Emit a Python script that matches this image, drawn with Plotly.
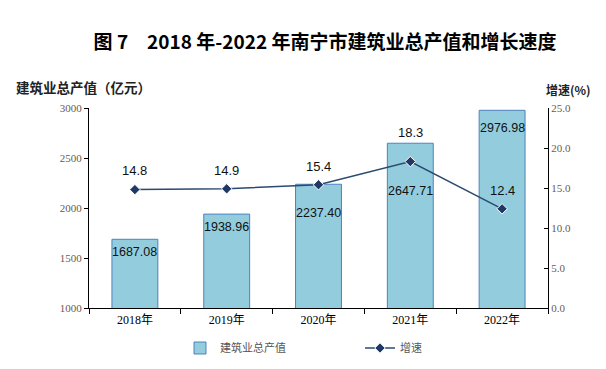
import plotly.graph_objects as go

years = ["2018年", "2019年", "2020年", "2021年", "2022年"]
output_value = [1687.08, 1938.96, 2237.40, 2647.71, 2976.98]
growth = [14.8, 14.9, 15.4, 18.3, 12.4]
bar_label_shift = [-13, -13, -29, -48, -18]
growth_label_shift = [19, 18, 18, 29, 18]

OFF = 8  # page body margin
W, H = 606, 369
PL, PR, PT, PB = 89 - OFF, 548 - OFF, 108 - OFF, 308 - OFF
PW, PH = PR - PL, PB - PT

fig = go.Figure()
fig.add_trace(go.Bar(
    x=years, y=output_value, name="建筑业总产值",
    marker=dict(color="#93CDDD", line=dict(color="#4F81BD", width=1)),
    width=0.5, yaxis="y",
))
fig.add_trace(go.Scatter(
    x=years, y=growth, name="增速", yaxis="y2", mode="lines+markers",
    line=dict(color="#2B4A6F", width=1.5),
    marker=dict(symbol="diamond", size=8, color="#1F3864", line=dict(color="white", width=1)),
))

ann = []
for xv, v, s in zip(years, output_value, bar_label_shift):
    ann.append(dict(x=xv, y=v, xref="x", yref="y", text=f"{v:.2f}", showarrow=False,
                    yshift=s, font=dict(family="Liberation Sans, Arial", size=12.5, color="#111")))
for xv, v, s in zip(years, growth, growth_label_shift):
    ann.append(dict(x=xv, y=v, xref="x", yref="y2", text=f"{v:.1f}", showarrow=False,
                    yshift=s, font=dict(family="Liberation Sans, Arial", size=13, color="#111")))
ann.append(dict(x=(14 - OFF - PL) / PW, y=(PB - (87 - OFF)) / PH, xref="paper", yref="paper",
                text="<b>建筑业总产值（亿元）</b>",
                showarrow=False, xanchor="left", yanchor="middle",
                font=dict(family="Noto Sans CJK SC", size=13.5, color="#222")))
ann.append(dict(x=(544 - OFF - PL) / PW, y=(PB - (90 - OFF)) / PH, xref="paper", yref="paper",
                text="<b>增速(%)</b>",
                showarrow=False, xanchor="left", yanchor="middle",
                font=dict(family="Noto Sans CJK SC", size=12, color="#222")))

tickfont = dict(family="Liberation Serif, DejaVu Serif", size=11, color="#6b5a50")

fig.update_layout(
    width=W, height=H,
    margin=dict(l=PL, r=W - PR, t=PT, b=H - PB, autoexpand=False),
    paper_bgcolor="white", plot_bgcolor="white",
    title=dict(text="<b>图 7　2018 年-2022 年南宁市建筑业总产值和增长速度</b>",
               x=(325 - OFF) / W, xanchor="center", y=1 - (42 - OFF) / H, yanchor="middle",
               font=dict(family="Noto Sans CJK SC", size=19, color="#000")),
    showlegend=True,
    legend=dict(orientation="h", xref="container", yref="container",
                x=(180 - OFF) / W, y=1 - (348 - OFF) / H, xanchor="left", yanchor="middle",
                font=dict(family="Noto Sans CJK SC", size=11, color="#555"),
                entrywidth=135, bgcolor="rgba(0,0,0,0)"),
    xaxis=dict(type="category", categoryorder="array", categoryarray=years,
               showline=True, linecolor="#000", linewidth=1.2, automargin=False,
               ticks="outside", ticklen=5, tickcolor="#000", tickson="boundaries",
               tickfont=dict(family="Liberation Serif, Noto Sans CJK SC", size=12, color="#000"),
               showgrid=False, range=[-0.5, 4.5]),
    yaxis=dict(range=[1000, 3000], dtick=500, showline=True, linecolor="#000", linewidth=1.2,
               ticks="outside", ticklen=4, tickcolor="#000", showgrid=False, zeroline=False,
               tickfont=tickfont, automargin=False),
    yaxis2=dict(range=[0, 25], dtick=5, tickformat=".1f", overlaying="y", side="right",
                showline=True, linecolor="#000", linewidth=1.2, ticks="inside", ticklen=4,
                tickcolor="#000", showgrid=False, zeroline=False, tickfont=tickfont,
                automargin=False),
    annotations=ann,
)

fig.write_html("out.html")
